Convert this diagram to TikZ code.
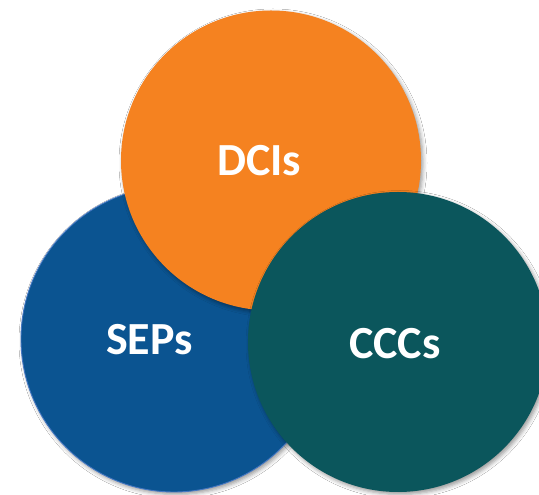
\documentclass[tikz,border=0pt]{standalone}
\usepackage{fontspec}
\setmainfont{Carlito}
\usetikzlibrary{shadows.blur}

\definecolor{dciorange}{RGB}{245,130,32}
\definecolor{sepblue}{RGB}{11,84,145}
\definecolor{sepedge}{RGB}{70,120,195}
\definecolor{cccteal}{RGB}{11,86,92}

\tikzset{
  disc/.style={circle, inner sep=0pt, minimum size=#1,
    blur shadow={shadow xshift=2pt, shadow yshift=-2.5pt,
                 shadow blur radius=4pt, shadow opacity=40}},
  label text/.style={text=white, anchor=base,
    font=\fontsize{46}{50}\selectfont\bfseries}
}

\begin{document}
\begin{tikzpicture}[x=1pt, y=1pt]
  \useasboundingbox (0,0) rectangle (539,495);
  \clip (0,0) rectangle (539,495);
  \fill[white] (0,0) rectangle (539,495);

  % the three overlapping discs, back to front
  \node[disc=306pt, fill=sepblue, draw=sepedge, line width=0.9pt] (sep) at (174,156) {};
  \node[disc=300pt, fill=dciorange] (dci) at (271,334.5) {};
  \node[disc=300pt, fill=cccteal] (ccc) at (398,153) {};

  % labels
  \node[label text] (dcil) at (259,319) {DCIs};
  \node[label text] (sepl) at (149.5,140) {SEPs};
  \node[label text] (cccl) at (395,136) {CCCs};
\end{tikzpicture}
\end{document}
